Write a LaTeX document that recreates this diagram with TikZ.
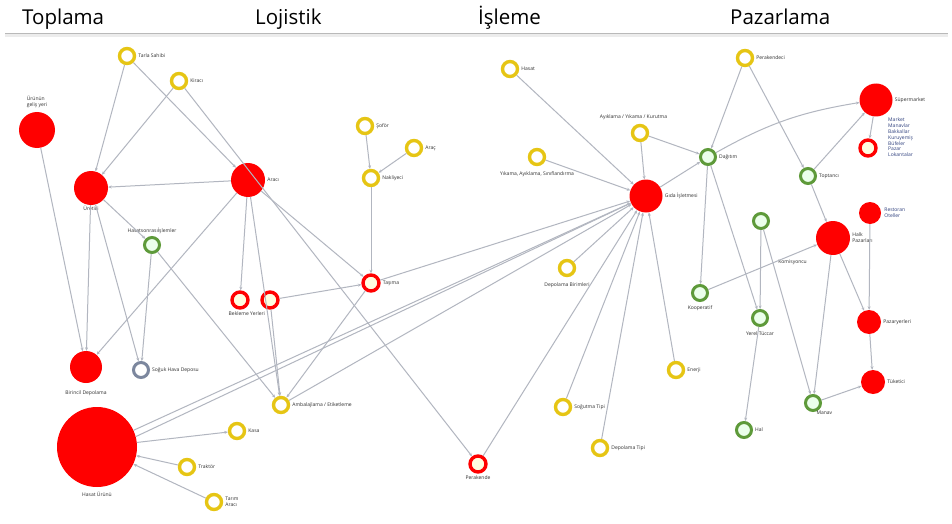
\documentclass[tikz,border=0pt]{standalone}
\usepackage{fontspec}
\setmainfont{Open Sans}
\usetikzlibrary{arrows.meta,positioning}
\definecolor{rd}{HTML}{FF0000}
\definecolor{yl}{HTML}{E6C514}
\definecolor{gn}{HTML}{5E9A3A}
\definecolor{bgr}{HTML}{7C879E}
\definecolor{edge}{HTML}{B2B6C0}
\definecolor{ink}{HTML}{2E2E2E}
\definecolor{blu}{HTML}{2F407E}
\tikzset{
  full/.style={circle, fill=rd, inner sep=0pt, minimum size=#1},
  redring/.style={circle, draw=rd, fill=yellow!12, line width=3.4pt, inner sep=0pt, minimum size=16pt},
  yring/.style={circle, draw=yl, fill=white, line width=3.4pt, inner sep=0pt, minimum size=15pt},
  gring/.style={circle, draw=gn, fill=green!8, line width=3pt, inner sep=0pt, minimum size=15pt},
  bring/.style={circle, draw=bgr, fill=white, line width=3pt, inner sep=0pt, minimum size=15pt},
  lbl/.style={text=ink, font=\fontsize{5}{5.8}\selectfont, inner sep=1pt, align=left},
  head/.style={text=black, font=\fontsize{20.5}{22}\selectfont, anchor=base west, inner sep=0pt},
  link/.style={draw=edge, line width=1pt, -{Stealth[length=3.5pt,width=3pt]}}
}

\begin{document}
\begin{tikzpicture}[x=1pt,y=-1pt]
  \useasboundingbox[fill=white] (0,0) rectangle (952,524);

  % headings
  \node[head] (h1) at (22,25) {Toplama};
  \node[head] (h2) at (255,25) {Lojistik};
  \node[head] (h3) at (478,25) {İşleme};
  \node[head] (h4) at (730,25) {Pazarlama};
  \draw[gray!15, line width=3pt] (5,36) -- (948,36);
  \draw[gray!55, line width=1pt] (5,34) -- (948,34);

  % Toplama
  \node[full=36pt] (a1) at (37,130) {};
  \node[full=34pt] (a2) at (91,188) {};
  \node[full=34pt] (a3) at (248,180) {};
  \node[gring] (a4) at (152,245) {};
  \node[yring] (a5) at (127,56) {};
  \node[yring] (a6) at (179,81) {};
  \node[full=32pt] (a7) at (86,367) {};
  \node[bring] (a8) at (141,370) {};
  \node[full=80pt] (a9) at (97,447) {};

  \node[lbl, above=3pt of a1] (a1t) {Ürünün\\geliş yeri};
  \node[lbl, below=0pt of a2] (a2t) {Üretici};
  \node[lbl, right=1pt of a3] (a3t) {Aracı};
  \node[lbl, above=1pt of a4] (a4t) {Hasatsonrasıİşlemler};
  \node[lbl, right=1pt of a5] (a5t) {Tarla Sahibi};
  \node[lbl, right=1pt of a6] (a6t) {Kiracı};
  \node[lbl, below=6pt of a7] (a7t) {Birincil Depolama};
  \node[lbl, right=1pt of a8] (a8t) {Soğuk Hava Deposu};
  \node[lbl, below=4pt of a9] (a9t) {Hasat Ürünü};

  % Lojistik
  \node[redring] (l1) at (240,300) {};
  \node[redring] (l2) at (270,300) {};
  \node[redring] (l3) at (371,283) {};
  \node[yring] (l4) at (365,126) {};
  \node[yring] (l5) at (414,148) {};
  \node[yring] (l6) at (371,178) {};
  \node[yring] (l7) at (281,405) {};
  \node[yring] (l8) at (237,431) {};
  \node[yring] (l9) at (187,467) {};
  \node[yring] (l10) at (214,502) {};
  \node[redring] (l11) at (478,464) {};

  \node[lbl, below=4pt of l1.south east] (l1t) {Bekleme Yerleri};
  \node[lbl, right=1pt of l3] (l3t) {Taşıma};
  \node[lbl, right=1pt of l4] (l4t) {Şoför};
  \node[lbl, right=1pt of l5] (l5t) {Araç};
  \node[lbl, right=1pt of l6] (l6t) {Nakliyeci};
  \node[lbl, right=1pt of l7] (l7t) {Ambalajlama / Etiketleme};
  \node[lbl, right=1pt of l8] (l8t) {Kasa};
  \node[lbl, right=1pt of l9] (l9t) {Traktör};
  \node[lbl, right=1pt of l10] (l10t) {Tarım\\Aracı};
  \node[lbl, below=1pt of l11] (l11t) {Perakende};

  % İşleme
  \node[yring] (p1) at (510,69) {};
  \node[yring] (p2) at (640,133) {};
  \node[yring] (p3) at (537,157) {};
  \node[full=33pt] (p4) at (646,196) {};
  \node[yring] (p5) at (567,268) {};
  \node[yring] (p6) at (563,407) {};
  \node[yring] (p7) at (600,448) {};
  \node[yring] (p8) at (676,370) {};

  \node[lbl, right=1pt of p1] (p1t) {Hasat};
  \node[lbl, above=6pt of p2.north west] (p2t) {Ayıklama / Yıkama / Kurutma};
  \node[lbl, below=4pt of p3] (p3t) {Yıkama, Ayıklama, Sınıflandırma};
  \node[lbl, right=1pt of p4] (p4t) {Gıda İşletmesi};
  \node[lbl, below=4pt of p5] (p5t) {Depolama Birimleri};
  \node[lbl, right=1pt of p6] (p6t) {Soğutma Tipi};
  \node[lbl, right=1pt of p7] (p7t) {Depolama Tipi};
  \node[lbl, right=1pt of p8] (p8t) {Enerji};

  % Pazarlama
  \node[gring] (m1) at (708,157) {};
  \node[yring] (m2) at (745,58) {};
  \node[full=33pt] (m3) at (876,100) {};
  \node[redring] (m4) at (868,148) {};
  \node[full=22pt] (m5) at (870,213) {};
  \node[full=34pt] (m6) at (833,238) {};
  \node[gring] (m7) at (808,176) {};
  \node[gring] (m8) at (761,221) {};
  \node[gring] (m9) at (700,293) {};
  \node[gring] (m10) at (760,318) {};
  \node[gring] (m11) at (744,430) {};
  \node[gring] (m12) at (813,403) {};
  \node[full=24pt] (m13) at (869,322) {};
  \node[full=24pt] (m14) at (873,382) {};

  \node[lbl, right=1pt of m1] (m1t) {Dağıtım};
  \node[lbl, right=1pt of m2] (m2t) {Perakendeci};
  \node[lbl, right=1pt of m3] (m3t) {Süpermarket};
  \node[lbl, text=blu, anchor=north west] (m4t) at (887,117) {Market\\Manavlar\\Bakkallar\\Kuruyemiş\\Büfeler\\Pazar\\Lokantalar};
  \node[lbl, text=blu, right=2pt of m5] (m5t) {Restoran\\Oteller};
  \node[lbl, right=1pt of m6] (m6t) {Halk\\Pazarları};
  \node[lbl, right=1pt of m7] (m7t) {Toptancı};
  \node[lbl, anchor=east] (m8t) at (808,262) {Komisyoncu};
  \node[lbl, below=2pt of m9] (m9t) {Kooperatif};
  \node[lbl, below=3pt of m10] (m10t) {Yerel Tüccar};
  \node[lbl, right=1pt of m11] (m11t) {Hal};
  \node[lbl, below right=0pt and -4pt of m12] (m12t) {Manav};
  \node[lbl, right=1pt of m13] (m13t) {Pazaryerleri};
  \node[lbl, right=1pt of m14] (m14t) {Tüketici};

  % connectors
  \draw[link] (a1) -- (a7);
  \draw[link] (a5) -- (a2);
  \draw[link] (a5) -- (a3);
  \draw[link] (a6) -- (a2);
  \draw[link] (a6) -- (l11);
  \draw[link] (a3) -- (a2);
  \draw[link] (a2) -- (a7);
  \draw[link] (a2) -- (a8);
  \draw[link] (a2) -- (a4);
  \draw[link] (a4) -- (a8);
  \draw[link] (a4) -- (l7);
  \draw[link] (a3) -- (a7);
  \draw[link] (a3) -- (l1);
  \draw[link] (a3) -- (l7);
  \draw[link] (a3) -- (l3);
  \draw[link] (l2) -- (l3);
  \draw[link] (l2) -- (l7);
  \draw[link] (l4) -- (l6);
  \draw[link] (l5) -- (l6);
  \draw[link] (l6) -- (l3);
  \draw[link] (l3) -- (l7);
  \draw[link] (a9) -- (p4);
  \draw[link] (a9.15) -- (p4.205);
  \draw[link] (a9) -- (l8);
  \draw[link] (l9) -- (a9);
  \draw[link] (l10) -- (a9);
  \draw[link] (l7) -- (p4);
  \draw[link] (l11) -- (p4);
  \draw[link] (l3) -- (p4);
  \draw[link] (p1) -- (p4);
  \draw[link] (p2) -- (p4);
  \draw[link] (p3) -- (p4);
  \draw[link] (p5) -- (p4);
  \draw[link] (p6) -- (p4);
  \draw[link] (p7) -- (p4);
  \draw[link] (p8) -- (p4);
  \draw[link] (p2) -- (m1);
  \draw[link] (p4) -- (m1);
  \draw[link] (m2) -- (m1);
  \draw[link] (m2) -- (m7);
  \draw[link] (m1) to[bend left=10] (m3);
  \draw[link] (m7) -- (m3);
  \draw[link] (m3) -- (m4);
  \draw[link] (m1) -- (m9);
  \draw[link] (m1) -- (m10);
  \draw[link] (m9) -- (m6);
  \draw[link] (m8) -- (m10);
  \draw[link] (m8) -- (m12);
  \draw[link] (m6) -- (m12);
  \draw[link] (m6) -- (m13);
  \draw[link] (m5) -- (m13);
  \draw[link] (m13) -- (m14);
  \draw[link] (m12) -- (m14);
  \draw[link] (m10) -- (m11);
  \draw[link] (m7) -- (m6);
\end{tikzpicture}
\end{document}
